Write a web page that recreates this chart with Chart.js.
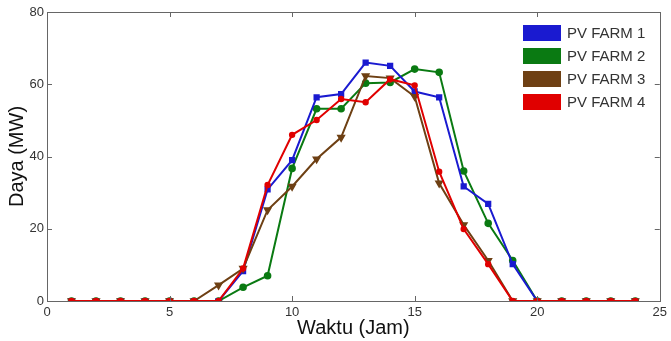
<!DOCTYPE html>
<html>
<head>
<meta charset="utf-8">
<script src="https://cdn.jsdelivr.net/npm/chart.js@4.4.1/dist/chart.umd.min.js"></script>
<style>
  html, body { margin: 0; padding: 0; background: #fff; }
  #wrap { width: 671px; height: 341px; position: relative; }
</style>
</head>
<body>
<div id="wrap"><canvas id="c" width="671" height="341"></canvas></div>
<script>
const hours = [1,2,3,4,5,6,7,8,9,10,11,12,13,14,15,16,17,18,19,20,21,22,23,24];
const farm1 = [0,0,0,0,0,0,0,8.3,30.9,39.0,56.4,57.3,66.0,65.1,58.0,56.4,31.7,26.9,10.2,0,0,0,0,0];
const farm2 = [0,0,0,0,0,0,0,3.8,7.0,36.7,53.2,53.2,60.3,60.5,64.2,63.3,36.0,21.5,11.2,0,0,0,0,0];
const farm3 = [0,0,0,0,0,0,4.4,9.0,25.2,31.7,39.3,45.3,62.3,61.7,56.6,32.6,21.1,11.2,0,0,0,0,0,0];
const farm4 = [0,0,0,0,0,0,0,9.0,32.1,46.0,50.1,55.9,55.0,61.4,59.7,35.8,19.9,10.2,0,0,0,0,0,0];
const seriesLabels = ['PV FARM 1','PV FARM 2','PV FARM 3','PV FARM 4'];
const xTicks = [0,5,10,15,20,25];
const yTicks = [0,20,40,60,80];

const colors = ['#1a1ad0','#0a7a12','#6e4014','#e00000'];
const styles = ['rect','circle','triangle','circle'];
const radii = [3,2.8,3.3,2.2];
const orders = [2,3,1,0];
const allData = [farm1, farm2, farm3, farm4];

const datasets = allData.map((arr, i) => ({
  label: seriesLabels[i],
  data: hours.map((h, j) => ({x: h, y: arr[j]})),
  borderColor: colors[i],
  backgroundColor: colors[i],
  pointBackgroundColor: colors[i],
  pointBorderColor: colors[i],
  pointStyle: styles[i],
  pointRotation: i === 2 ? 180 : 0,
  pointRadius: radii[i],
  borderWidth: 2,
  tension: 0,
  order: orders[i]
}));

const framePlugin = {
  id: 'frame',
  afterDatasetsDraw(chart) {
    const {ctx, chartArea: a, scales: {x, y}} = chart;
    ctx.save();
    ctx.strokeStyle = '#666';
    ctx.lineWidth = 1;
    ctx.strokeRect(Math.round(a.left) + 0.5, Math.round(a.top) + 0.5, Math.round(a.right - a.left), Math.round(a.bottom - a.top));
    ctx.beginPath();
    const tl = 5;
    xTicks.forEach(v => {
      const px = Math.round(x.getPixelForValue(v)) + 0.5;
      ctx.moveTo(px, a.bottom); ctx.lineTo(px, a.bottom - tl);
      ctx.moveTo(px, a.top); ctx.lineTo(px, a.top + tl);
    });
    yTicks.forEach(v => {
      const py = Math.round(y.getPixelForValue(v)) + 0.5;
      ctx.moveTo(a.left, py); ctx.lineTo(a.left + tl, py);
      ctx.moveTo(a.right, py); ctx.lineTo(a.right - tl, py);
    });
    ctx.stroke();
    // legend
    ctx.font = '15px "Liberation Sans", Arial, sans-serif';
    ctx.textBaseline = 'middle';
    ctx.textAlign = 'left';
    const tops = [25, 48, 71, 94];
    seriesLabels.forEach((lab, i) => {
      ctx.fillStyle = colors[i];
      ctx.fillRect(523, tops[i], 38, 16);
      ctx.fillStyle = '#333';
      ctx.fillText(lab, 567, tops[i] + 8.5);
    });
    ctx.restore();
  }
};

new Chart(document.getElementById('c'), {
  type: 'line',
  data: { datasets },
  options: {
    responsive: false,
    animation: false,
    devicePixelRatio: 1,
    layout: { padding: { top: 12, right: 11, left: 0, bottom: 0 } },
    plugins: { legend: { display: false }, tooltip: { enabled: false } },
    scales: {
      x: {
        type: 'linear', min: 0, max: 25,
        afterFit(s) { s.height = 40; },
        afterBuildTicks(s) { s.ticks = xTicks.map(v => ({value: v})); },
        grid: { display: false, drawTicks: false },
        border: { display: false },
        ticks: { padding: 4, color: '#333', font: { size: 13, family: '"Liberation Sans", Arial, sans-serif' }, maxRotation: 0, autoSkip: false },
        title: { display: true, text: 'Waktu (Jam)', color: '#111', font: { size: 20, family: '"Liberation Sans", Arial, sans-serif' }, padding: { top: 0, bottom: 1 } }
      },
      y: {
        type: 'linear', min: 0, max: 80,
        afterFit(s) { s.width = 47; },
        afterBuildTicks(s) { s.ticks = yTicks.map(v => ({value: v})); },
        grid: { display: false, drawTicks: false },
        border: { display: false },
        ticks: { padding: 3, color: '#333', font: { size: 13, family: '"Liberation Sans", Arial, sans-serif' } },
        title: { display: true, text: 'Daya (MW)', color: '#111', font: { size: 20, family: '"Liberation Sans", Arial, sans-serif' }, padding: { top: 5, bottom: 0 } }
      }
    }
  },
  plugins: [framePlugin]
});
</script>
</body>
</html>
